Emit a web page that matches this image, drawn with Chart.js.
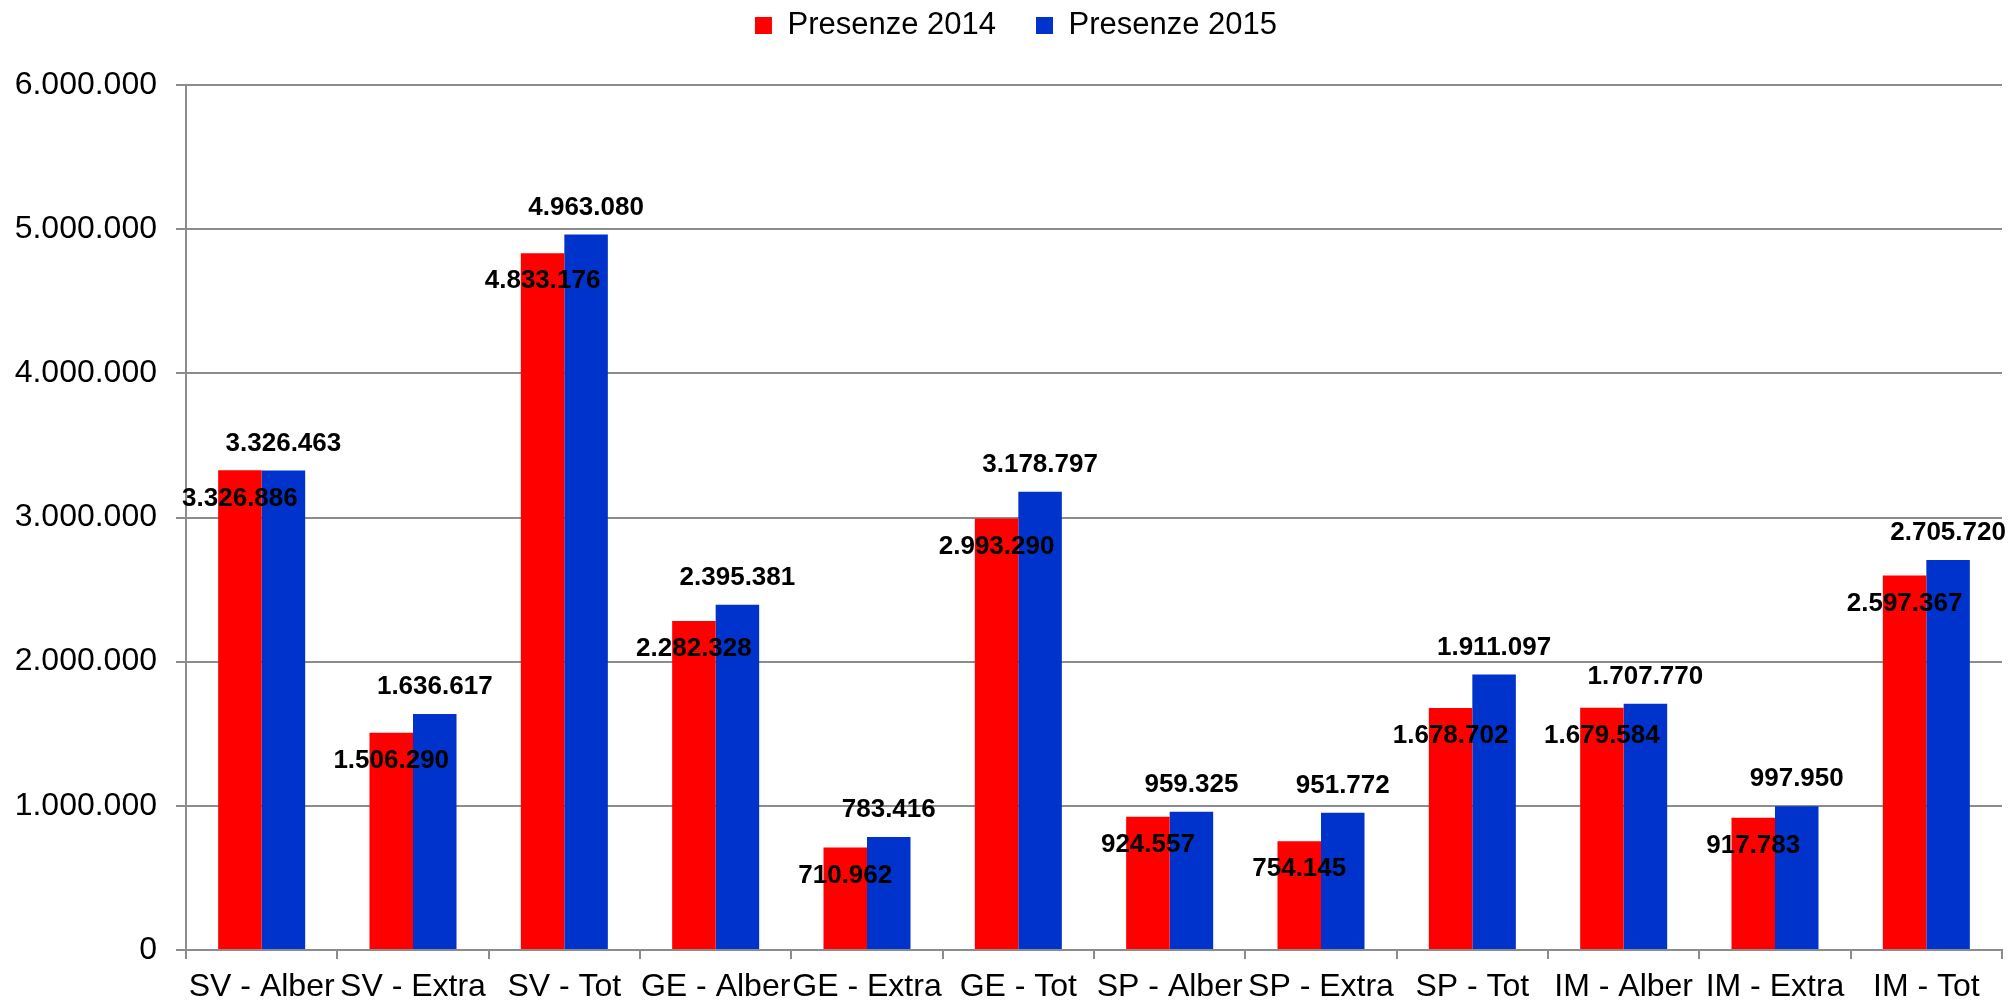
<!DOCTYPE html>
<html>
<head>
<meta charset="utf-8">
<script src="https://cdn.jsdelivr.net/npm/chart.js@4/dist/chart.umd.min.js"></script>
<style>
  html, body { margin: 0; padding: 0; background: #fff; }
  #wrap { width: 2013px; height: 1004px; }
</style>
</head>
<body>
<div id="wrap"><canvas id="chart-1"></canvas></div>
<script>
const categories = ["SV - Alber", "SV - Extra", "SV - Tot", "GE - Alber", "GE - Extra", "GE - Tot",
  "SP - Alber", "SP - Extra", "SP - Tot", "IM - Alber", "IM - Extra", "IM - Tot"];
const presenze2014 = [3326886, 1506290, 4833176, 2282328, 710962, 2993290,
  924557, 754145, 1678702, 1679584, 917783, 2597367];
const presenze2015 = [3326463, 1636617, 4963080, 2395381, 783416, 3178797,
  959325, 951772, 1911097, 1707770, 997950, 2705720];
const yTicks = [0, 1000000, 2000000, 3000000, 4000000, 5000000, 6000000];

const FONT = "'Liberation Sans', Arial, sans-serif";
Chart.defaults.font.family = FONT;
Chart.defaults.color = "#000";

// 1.234.567 style
function fmt(v) {
  return String(Math.round(v)).replace(/\B(?=(\d{3})+(?!\d))/g, ".");
}

// value labels: red ones sit just under the bar top, blue ones above it
const valueLabels = {
  id: "valueLabels",
  afterDatasetsDraw(chart) {
    const ctx = chart.ctx;
    ctx.save();
    ctx.font = "bold 26px " + FONT;
    ctx.fillStyle = "#000";
    ctx.textAlign = "center";
    ctx.textBaseline = "middle";
    chart.data.datasets.forEach((ds, i) => {
      const meta = chart.getDatasetMeta(i);
      meta.data.forEach((bar, j) => {
        const dy = i === 0 ? 28 : -27;
        ctx.fillText(fmt(ds.data[j]), bar.x, bar.y + dy);
      });
    });
    ctx.restore();
  }
};

// legend: a bit higher, a bit to the right, more room beneath it
const legendSpacing = {
  id: "legendSpacing",
  beforeInit(chart) {
    const fit = chart.legend.fit;
    chart.legend.fit = function () {
      fit.bind(chart.legend)();
      this.height += 4;
    };
  },
  afterLayout(chart) {
    chart.legend.top -= 30;
    chart.legend.left += 15;
    chart.legend.right += 15;
  }
};

var data = {
  labels: categories,
  datasets: [
    {
      label: "Presenze 2014",
      data: presenze2014,
      backgroundColor: "#ff0000",
      borderWidth: 0,
      barPercentage: 1,
      categoryPercentage: 0.575,
    },
    {
      label: "Presenze 2015",
      data: presenze2015,
      backgroundColor: "#0033cc",
      borderWidth: 0,
      barPercentage: 1,
      categoryPercentage: 0.575,
    },
  ],
};

var options = {
  responsive: true,
  maintainAspectRatio: false,
  animation: false,
  layout: { padding: { left: 0, right: 11, top: 0, bottom: 0 } },
  plugins: {
    legend: {
      display: true,
      position: "top",
      labels: {
        font: { size: 31 },
        color: "#000",
        boxWidth: 17,
        boxHeight: 17,
        padding: 40,
      },
    },
    tooltip: { enabled: false },
  },
  scales: {
    y: {
      min: 0,
      max: 6000000,
      afterBuildTicks: (axis) => { axis.ticks = yTicks.map(v => ({ value: v })); },
      afterFit: (axis) => { axis.width = 186; },
      ticks: {
        font: { size: 32 },
        color: "#000",
        padding: 19,
        callback: (v) => fmt(v),
      },
      grid: { color: "#8c8c8c", lineWidth: 2, tickLength: 10 },
      border: { color: "#8c8c8c", width: 2 },
    },
    x: {
      afterFit: (axis) => { axis.height = 54; },
      ticks: { font: { size: 32 }, color: "#000", padding: 9, maxRotation: 0, autoSkip: false },
      grid: { drawOnChartArea: false, drawTicks: true, tickLength: 9, color: "#8c8c8c", lineWidth: 2 },
      border: { color: "#8c8c8c", width: 2 },
    },
  },
};

new Chart(document.getElementById("chart-1"), {
  type: "bar",
  data: data,
  options: options,
  plugins: [valueLabels, legendSpacing],
});
</script>
</body>
</html>
